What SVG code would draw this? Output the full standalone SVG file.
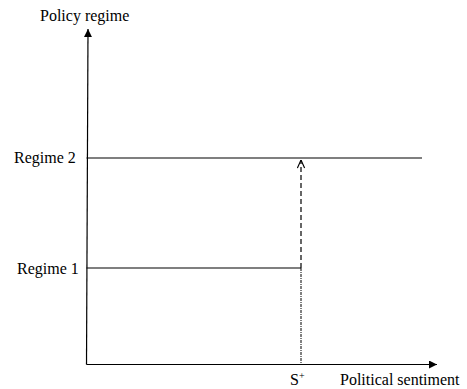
<svg xmlns="http://www.w3.org/2000/svg" width="467" height="389" viewBox="0 0 467 389">
<style>
text{font-family:"Liberation Serif","Times New Roman",serif;font-size:16px;fill:#000}
.ln{stroke:#000;stroke-width:1.2;fill:none}
</style>
<defs>
<marker id="ah" viewBox="0 0 10 10" refX="10" refY="5" markerWidth="9" markerHeight="8" markerUnits="userSpaceOnUse" orient="auto"><path d="M0,0 L10,5 L0,10 z" fill="#000"/></marker>
<marker id="oh" viewBox="0 0 10 10" refX="10" refY="5" markerWidth="9" markerHeight="9" markerUnits="userSpaceOnUse" orient="auto"><path d="M1,1 L10,5 L1,9" fill="none" stroke="#000" stroke-width="1.3"/></marker>
</defs>
<g id="axes">
<line class="ln" x1="86.5" y1="364.5" x2="88" y2="29" marker-end="url(#ah)"/>
<line class="ln" x1="86.5" y1="364.5" x2="437" y2="364.5" marker-end="url(#ah)"/>
<text x="40" y="21">Policy regime</text>
<text x="340" y="385">Political sentiment</text>
</g>
<g id="regime2">
<line class="ln" x1="86.5" y1="158" x2="422" y2="158"/>
<text x="14" y="163">Regime 2</text>
</g>
<g id="regime1">
<line class="ln" x1="86.5" y1="268" x2="301" y2="268"/>
<text x="17" y="274">Regime 1</text>
</g>
<g id="splus">
<text x="290" y="385">S<tspan font-size="10" dy="-6">+</tspan></text>
</g>
<g id="connectors">
<line class="ln" x1="301" y1="268" x2="301" y2="160" stroke-dasharray="5,3" marker-end="url(#oh)"/>
<line x1="301" y1="268" x2="301" y2="364" stroke="#000" stroke-width="1" stroke-dasharray="3,1,1,1"/>
</g>
</svg>
